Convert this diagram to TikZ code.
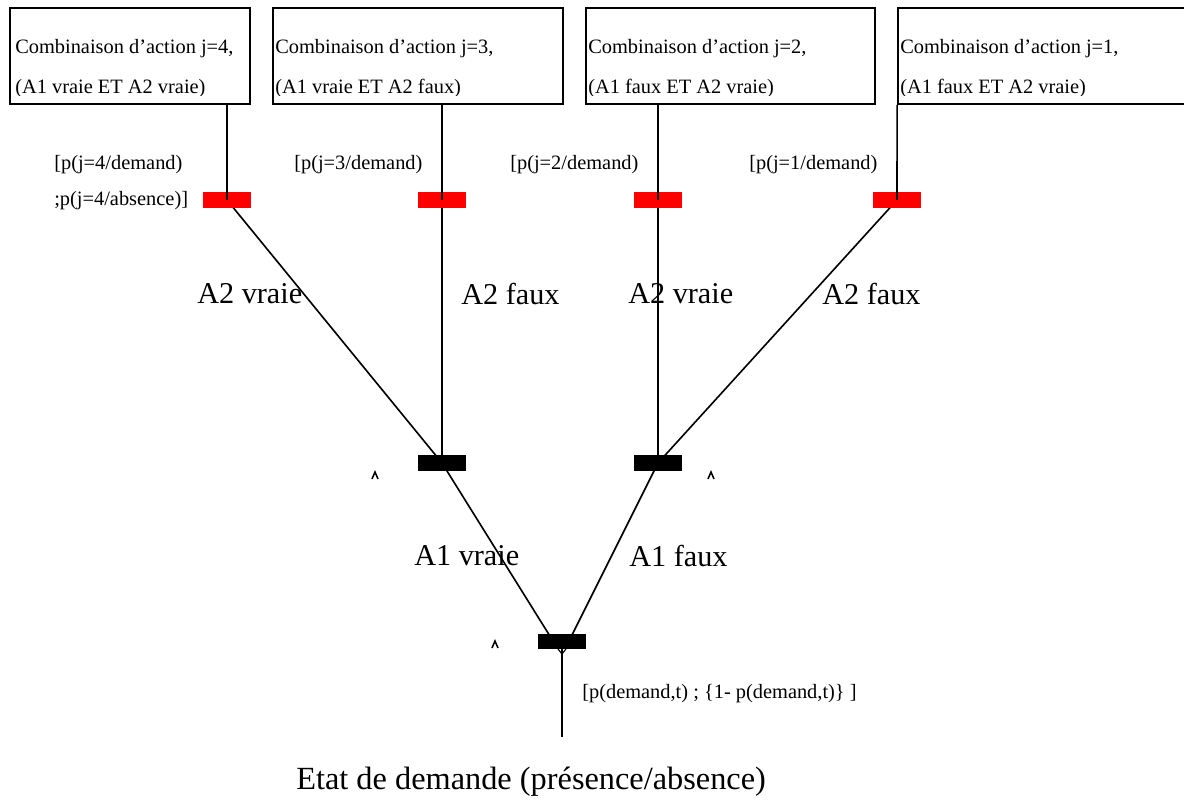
\documentclass[tikz,border=0pt]{standalone}
\usepackage{fontspec}
\setmainfont{Liberation Serif}
\begin{document}
\begin{tikzpicture}[x=0.025cm,y=-0.025cm,
  boxnode/.style={draw, line width=1.2pt, inner sep=0, minimum height=2.4cm},
  redbar/.style={fill=red, inner sep=0, minimum width=1.2cm, minimum height=0.375cm},
  blackbar/.style={fill=black, inner sep=0, minimum width=1.2cm, minimum height=0.375cm},
  edge/.style={line width=1.15pt},
  caret/.style={line width=1.1pt},
  smalltxt/.style={font=\fontsize{14.5}{17}\selectfont, inner sep=0, anchor=west},
  boxtxt/.style={font=\fontsize{14.5}{17}\selectfont, inner sep=0, anchor=base west},
  bigtxt/.style={font=\fontsize{21.5}{25}\selectfont, inner sep=0, anchor=west},
  bottomtxt/.style={font=\fontsize{23}{27}\selectfont, inner sep=0, anchor=west}]
\useasboundingbox (0,0) rectangle (1184,800);

% boxes
\node[boxnode, minimum width=6cm] (bj4) at (130,56) {};
\node[boxnode, minimum width=7.25cm] (bj3) at (418,56) {};
\node[boxnode, minimum width=7.225cm] (bj2) at (730.5,56) {};
\node[boxnode, minimum width=7.55cm] (bj1) at (1049,56) {};

\begin{scope}
\clip (10,8) rectangle (250,95.5);
\node[boxtxt] (t4a) at (15,54) {Combinaison d’action j=4,};
\node[boxtxt] (t4b) at (15,93.5) {(A1 vraie ET A2 vraie)};
\end{scope}
\begin{scope}
\clip (273,8) rectangle (563,95.5);
\node[boxtxt] (t3a) at (275,54) {Combinaison d’action j=3,};
\node[boxtxt] (t3b) at (275,93.5) {(A1 vraie ET A2 faux)};
\end{scope}
\begin{scope}
\clip (586,8) rectangle (875,95.5);
\node[boxtxt] (t2a) at (588,54) {Combinaison d’action j=2,};
\node[boxtxt] (t2b) at (588,93.5) {(A1 faux ET A2 vraie)};
\end{scope}
\begin{scope}
\clip (898,8) rectangle (1200,95.5);
\node[boxtxt] (t1a) at (900,54) {Combinaison d’action j=1,};
\node[boxtxt] (t1b) at (900,93.5) {(A1 faux ET A2 vraie)};
\end{scope}

% bar positions
\coordinate (p4) at (227,200);
\coordinate (p3) at (442,200);
\coordinate (p2) at (658,200);
\coordinate (p1) at (897,200);
\coordinate (pl) at (442,463);
\coordinate (pr) at (658,463);
\coordinate (pb) at (562,641);
\coordinate (bbL) at (553,641);
\coordinate (bbR) at (569,641);
\coordinate (root) at (562,737);

% lower connectors (behind bars)
\draw[edge] (p4) -- (pl);
\draw[edge] (p3) -- (pl);
\draw[edge] (p2) -- (pr);
\draw[edge] (p1) -- (pr);
\draw[edge] (pl) -- (bbL);
\draw[edge] (pr) -- (bbR);
\draw[edge] (root) -- (pb);

% bars
\node[redbar] (rr4) at (p4) {};
\node[redbar] (rr3) at (p3) {};
\node[redbar] (rr2) at (p2) {};
\node[redbar] (rr1) at (p1) {};
\node[blackbar] (bl) at (pl) {};
\node[blackbar] (br) at (pr) {};
\node[blackbar] (bb) at (pb) {};

% box to red bar
\draw[edge] (rr4 |- bj4.south) -- (rr4.center);
\draw[edge] (rr3 |- bj3.south) -- (rr3.center);
\draw[edge] (rr2 |- bj2.south) -- (rr2.center);
\draw[edge] (bj1.south west) -- (rr1.center);

% small mark under bottom bar
\draw[line width=0.8pt] (558,649) -- (562,654) -- (566,649);

% carets
\draw[caret] (372,479) -- (375,472) -- (378,479);
\draw[caret] (708,479) -- (711,472) -- (714,479);
\draw[caret] (492,648) -- (495,641) -- (498,648);

% labels
\node[smalltxt] (l4a) at (54,165) {[p(j=4/demand)};
\node[smalltxt] (l4b) at (54,201) {;p(j=4/absence)]};
\node[smalltxt] (l3) at (294,165) {[p(j=3/demand)};
\node[smalltxt] (l2) at (510,165) {[p(j=2/demand)};
\node[smalltxt] (l1) at (749,165) {[p(j=1/demand)};

\node[bigtxt] (a2v1) at (197,294) {A2 vraie};
\node[bigtxt] (a2f1) at (461,294) {A2 faux};
\node[bigtxt] (a2v2) at (628,294) {A2 vraie};
\node[bigtxt] (a2f2) at (822,294) {A2 faux};
\node[bigtxt] (a1v) at (414,556) {A1 vraie};
\node[bigtxt] (a1f) at (629,556) {A1 faux};

\node[smalltxt] (lroot) at (582,694) {[p(demand,t) ; \{1- p(demand,t)\} ]};
\node[bottomtxt] (etat) at (296,782) {Etat de demande (présence/absence)};
\end{tikzpicture}
\end{document}
